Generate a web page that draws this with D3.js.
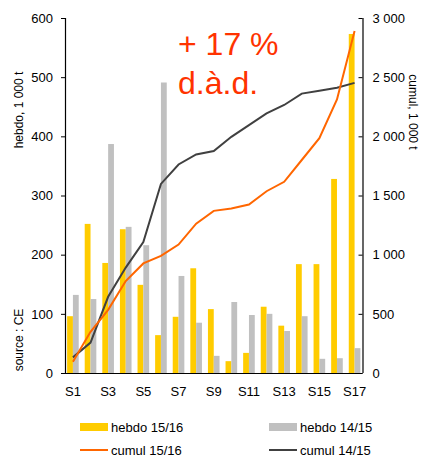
<!DOCTYPE html>
<html><head><meta charset="utf-8">
<script src="https://cdn.jsdelivr.net/npm/d3@7"></script>
<style>body{margin:0;background:#fff;} text{font-family:"Liberation Sans",Arial,sans-serif;}</style>
</head><body>
<svg id="c" width="423" height="459"></svg>
<script>
const categories = ["S1","S2","S3","S4","S5","S6","S7","S8","S9","S10","S11","S12","S13","S14","S15","S16","S17"];
const hebdo1516 = [96,252,186,243,149,64,95,177,108,20,34,112,80,184,184,328,573];
const hebdo1415 = [132,125,387,247,216,491,164,85,29,120,98,100,71,96,24,25,42];
const cumul1516 = [96,348,534,777,926,990,1085,1262,1370,1390,1424,1536,1616,1800,1984,2312,2890];
const cumul1415 = [132,257,644,891,1107,1598,1762,1847,1876,1996,2094,2194,2265,2361,2385,2410,2452];
const leftTicks = [0,100,200,300,400,500,600];
const rightTicks = [0,500,1000,1500,2000,2500,3000];
const xLabels = ["S1","S3","S5","S7","S9","S11","S13","S15","S17"];

const svg = d3.select("#c");
const L = 65, R = 362.5, T = 18, B = 373;
const x = d3.scaleBand().domain(categories).range([L, R]).paddingInner(0.34).paddingOuter(0.12);
const xs = d3.scaleBand().domain(["a","b"]).range([0, x.bandwidth()]);
const yL = d3.scaleLinear().domain([0,600]).range([B, T]);
const yR = d3.scaleLinear().domain([0,3000]).range([B, T]);
const fmt = d => d3.format(",")(d).replace(/,/g, "\u00a0");

// bars
const g = svg.append("g");
categories.forEach((c, i) => {
  g.append("rect").attr("x", x(c)).attr("width", xs.bandwidth()).attr("y", yL(hebdo1516[i])).attr("height", B - yL(hebdo1516[i])).attr("fill", "#ffcc00");
  g.append("rect").attr("x", x(c) + xs("b")).attr("width", xs.bandwidth()).attr("y", yL(hebdo1415[i])).attr("height", B - yL(hebdo1415[i])).attr("fill", "#c0c0c0");
});

// axes
const axL = d3.axisLeft(yL).tickValues(leftTicks).tickSize(4).tickPadding(8).tickFormat(fmt);
const gl = svg.append("g").attr("transform", `translate(${L},0)`).call(axL);
const axR = d3.axisRight(yR).tickValues(rightTicks).tickSize(-4).tickPadding(10).tickFormat(fmt);
const gr = svg.append("g").attr("transform", `translate(${R},0)`).call(axR);
const axB = d3.axisBottom(x).tickValues(xLabels).tickSize(0).tickPadding(14);
const gb = svg.append("g").attr("transform", `translate(0,${B})`).call(axB);
[gl, gr, gb].forEach(a => {
  a.selectAll("path.domain").attr("stroke", "#000").attr("stroke-width", 1.2);
  a.selectAll("line").attr("stroke", "#000");
  a.selectAll("text").attr("font-size", 13).attr("fill", "#000").style("font-family", '"Liberation Sans",Arial,sans-serif');
});
gl.select("path.domain").attr("d", `M0.5,${T}V${B}`);
gr.select("path.domain").attr("d", `M0.5,${T}V${B}`);
gb.select("path.domain").attr("d", `M${L},0.5H${R}`);

// lines
const cx = c => x(c) + x.bandwidth() / 2;
const line = d3.line().x((d, i) => cx(categories[i])).y(d => yR(d));
svg.append("path").datum(cumul1415).attr("d", line).attr("fill", "none").attr("stroke", "#404040").attr("stroke-width", 2);
svg.append("path").datum(cumul1516).attr("d", line).attr("fill", "none").attr("stroke", "#ff6600").attr("stroke-width", 2);

// annotation
svg.append("text").attr("x", 178).attr("y", 55).attr("font-size", 32).attr("fill", "#ff3300").text("+ 17 %");
svg.append("text").attr("x", 178).attr("y", 94).attr("font-size", 32).attr("fill", "#ff3300").text("d.à.d.");

// axis titles
svg.append("text").attr("transform", "translate(23,110) rotate(-90)").attr("text-anchor", "middle").attr("font-size", 12).text("hebdo, 1 000 t");
svg.append("text").attr("transform", "translate(23,340) rotate(-90)").attr("text-anchor", "middle").attr("font-size", 12).text("source : CE");
svg.append("text").attr("transform", "translate(409,112) rotate(90)").attr("text-anchor", "middle").attr("font-size", 12).text("cumul, 1 000 t");

// legend
const leg = [
  {t: "hebdo 15/16", x: 80, y: 427, type: "rect", c: "#ffcc00"},
  {t: "hebdo 14/15", x: 269, y: 427, type: "rect", c: "#c0c0c0"},
  {t: "cumul 15/16", x: 80, y: 450, type: "line", c: "#ff6600"},
  {t: "cumul 14/15", x: 269, y: 450, type: "line", c: "#404040"}
];
leg.forEach(d => {
  if (d.type === "rect") svg.append("rect").attr("x", d.x).attr("y", d.y - 4).attr("width", 28).attr("height", 8).attr("fill", d.c);
  else svg.append("line").attr("x1", d.x).attr("x2", d.x + 28).attr("y1", d.y).attr("y2", d.y).attr("stroke", d.c).attr("stroke-width", 2);
  svg.append("text").attr("x", d.x + 31).attr("y", d.y + 5).attr("font-size", 13).text(d.t);
});
</script>
</body></html>
